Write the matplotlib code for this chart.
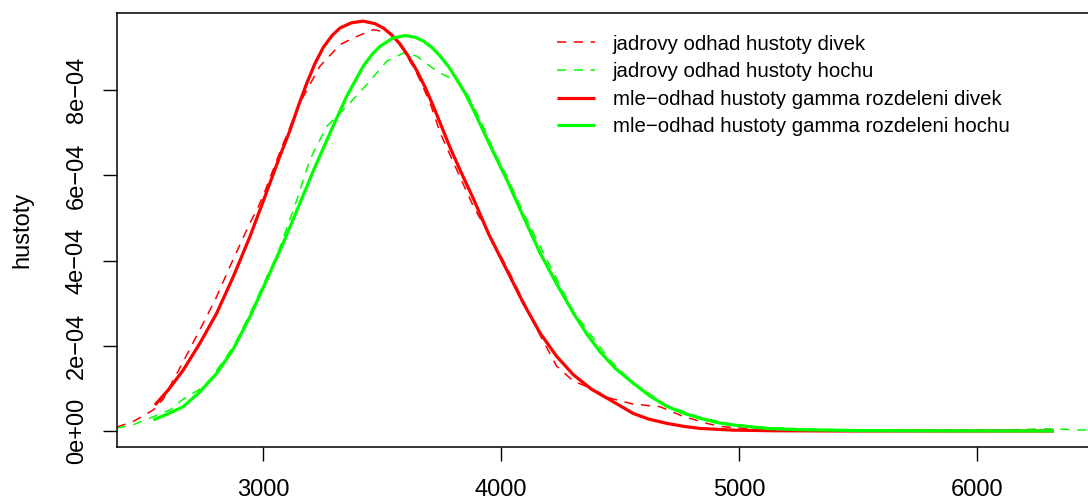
import matplotlib
matplotlib.use("Agg")
import matplotlib.pyplot as plt

plt.rcParams['font.family'] = ['Liberation Sans', 'DejaVu Sans']

# porodni hmotnosti (g) a odhady hustot (v jednotkach 1e-4)
divky_kde_x = [2386, 2457, 2541, 2581, 2665, 2749, 2805, 2861, 2945, 2974, 3003, 3071,
               3155, 3239, 3324, 3394, 3464, 3534, 3590, 3646, 3702, 3744, 3814, 3884,
               3954, 4024, 4094, 4164, 4234, 4304, 4374, 4458, 4556, 4668, 4766, 4878,
               4934, 5050, 5200, 5400]
divky_kde_y = [0.09, 0.23, 0.50, 0.75, 1.63, 2.53, 3.15, 3.86, 4.88, 5.19, 5.55, 6.55,
               7.70, 8.56, 9.07, 9.26, 9.42, 9.34, 8.95, 8.40, 7.70, 7.00, 6.13, 5.27,
               4.57, 3.85, 3.05, 2.25, 1.52, 1.17, 1.01, 0.77, 0.63, 0.57, 0.34, 0.16,
               0.10, 0.05, 0.02, 0.005]

hosi_kde_x = [2386, 2457, 2541, 2611, 2665, 2737, 2777, 2877, 2945, 3031, 3057, 3142,
              3197, 3268, 3352, 3436, 3520, 3590, 3646, 3702, 3744, 3814, 3856, 3912,
              3968, 4024, 4094, 4164, 4304, 4458, 4556, 4696, 4836, 4976, 5116, 5300,
              5600, 5900, 6100, 6223, 6294, 6336, 6392, 6480]
hosi_kde_y = [0.07, 0.15, 0.34, 0.50, 0.75, 0.99, 1.20, 1.99, 2.75, 3.80, 4.09, 5.42,
              6.37, 7.15, 7.62, 8.13, 8.68, 8.87, 8.80, 8.56, 8.40, 8.21, 7.93, 7.31,
              6.60, 5.98, 5.12, 4.34, 2.80, 1.66, 1.12, 0.60, 0.32, 0.15, 0.08, 0.04,
              0.02, 0.02, 0.02, 0.04, 0.05, 0.05, 0.03, 0.02]

divky_mle_x = [2546, 2600, 2665, 2735, 2805, 2875, 2945, 3008, 3071, 3113, 3150, 3183,
               3218, 3253, 3290, 3324, 3372, 3421, 3470, 3505, 3540, 3576, 3610, 3646,
               3680, 3716, 3750, 3786, 3830, 3884, 3950, 4024, 4094, 4164, 4234, 4304,
               4380, 4458, 4556, 4620, 4696, 4766, 4836, 4976, 5150, 5400, 5800, 6323]
divky_mle_y = [0.61, 0.95, 1.43, 2.06, 2.76, 3.62, 4.56, 5.50, 6.45, 7.05, 7.65, 8.15,
               8.62, 9.00, 9.28, 9.46, 9.58, 9.62, 9.56, 9.46, 9.30, 9.08, 8.80, 8.46,
               8.08, 7.62, 7.15, 6.65, 6.10, 5.45, 4.60, 3.78, 3.00, 2.30, 1.75, 1.32,
               0.98, 0.73, 0.41, 0.28, 0.18, 0.11, 0.06, 0.02, 0.005, 0.0, 0.0, 0.0]

hosi_mle_x = [2539, 2600, 2665, 2735, 2805, 2875, 2945, 3015, 3085, 3148, 3211, 3282,
              3352, 3421, 3460, 3492, 3545, 3597, 3640, 3674, 3710, 3744, 3780, 3814,
              3850, 3884, 3950, 4024, 4094, 4164, 4234, 4304, 4360, 4416, 4480, 4556,
              4626, 4696, 4766, 4836, 4906, 4976, 5116, 5256, 5500, 5800, 6100, 6323]
hosi_mle_y = [0.26, 0.40, 0.57, 0.92, 1.35, 1.92, 2.68, 3.54, 4.41, 5.25, 6.10, 7.00,
              7.86, 8.56, 8.85, 9.03, 9.22, 9.28, 9.24, 9.15, 9.00, 8.80, 8.55, 8.25,
              7.92, 7.54, 6.75, 5.90, 5.03, 4.18, 3.45, 2.77, 2.28, 1.86, 1.47, 1.12,
              0.82, 0.58, 0.42, 0.30, 0.20, 0.14, 0.06, 0.03, 0.01, 0.003, 0.001, 0.0]

labels = ["jadrovy odhad hustoty divek",
          "jadrovy odhad hustoty hochu",
          "mle\u2212odhad hustoty gamma rozdeleni divek",
          "mle\u2212odhad hustoty gamma rozdeleni hochu"]

yticks = [0, 2e-4, 4e-4, 6e-4, 8e-4]
ytick_labels = ["0e+00", "2e\u221204", "4e\u221204", "6e\u221204", "8e\u221204"]
xticks = [3000, 4000, 5000, 6000]


def scaled(vals):
    return [v * 1e-4 for v in vals]


fig = plt.figure(figsize=(10.88, 5.01), dpi=100)
ax = fig.add_axes([117 / 1088, 1 - 447 / 501, (1092 - 117) / 1088, (447 - 13) / 501])

red = "#FF0000"
green = "#00FF00"
dash = (0, (6, 5))

ax.plot(divky_kde_x, scaled(divky_kde_y), color=red, lw=1.1, ls=dash, label=labels[0])
ax.plot(hosi_kde_x, scaled(hosi_kde_y), color=green, lw=1.1, ls=dash, label=labels[1])
ax.plot(divky_mle_x, scaled(divky_mle_y), color=red, lw=2.3, label=labels[2],
        solid_capstyle='butt', solid_joinstyle='round')
ax.plot(hosi_mle_x, scaled(hosi_mle_y), color=green, lw=2.3, label=labels[3],
        solid_capstyle='butt', solid_joinstyle='round')

x0 = 3000 + (117 - 263) / 0.238
x1 = 3000 + (1092 - 263) / 0.238
ax.set_xlim(x0, x1)
ax.set_ylim(-0.376e-4, 9.81e-4)

ax.set_xticks(xticks)
ax.set_xticklabels([str(t) for t in xticks], fontsize=17)
ax.set_yticks(yticks)
ax.set_yticklabels(ytick_labels, fontsize=17, rotation=90, va='center')
ax.tick_params(axis='both', direction='out', length=10, width=1, color='black')
ax.tick_params(axis='x', pad=13)
ax.tick_params(axis='y', pad=11)
for s in ax.spines.values():
    s.set_linewidth(1.1)
    s.set_color('black')

fig.text(22 / 1088, 1 - 230 / 501, "hustoty", rotation=90, fontsize=17,
         ha='center', va='center')

ax.legend(loc='upper left', bbox_to_anchor=(557 / 1088, 1 - 34.5 / 501),
          bbox_transform=fig.transFigure, frameon=False, fontsize=14.7,
          handlelength=1.86, handletextpad=0.88, labelspacing=0.42,
          borderpad=0, borderaxespad=0)

fig.savefig("out.png", dpi=100)
